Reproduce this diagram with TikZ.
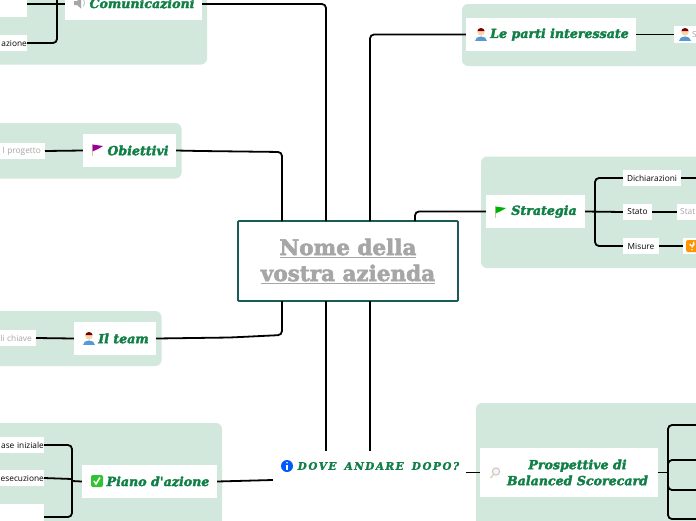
\documentclass[tikz,border=0pt]{standalone}
\usepackage{fontspec}
\setmainfont{Open Sans}
\newfontfamily\headfont[BoldFeatures={FakeBold=2.6},BoldItalicFeatures={FakeBold=2.4}]{DejaVu Serif}
\newfontfamily\dovefont[LetterSpace=14,WordSpace=1.6,BoldItalicFeatures={FakeBold=2}]{DejaVu Serif}
\definecolor{groupgreen}{HTML}{D3E8DC}
\definecolor{headgreen}{HTML}{118046}
\definecolor{rootteal}{HTML}{1A5C57}
\definecolor{softgrey}{HTML}{A6A6A6}
\tikzset{
  grouparea/.style={fill=groupgreen, rounded corners=6},
  mainbox/.style={fill=white, inner sep=0, text=headgreen, align=center, font=\headfont\bfseries\itshape\fontsize{12.6}{16}\selectfont},
  subbox/.style={fill=white, inner sep=0, font=\fontsize{8.3}{10}\selectfont},
  greybox/.style={subbox, text=softgrey},
  link/.style={line width=1.8pt, rounded corners=4},
  pics/personicon/.style={code={
    \fill[cyan!60!blue!70] (-6,6.5) .. controls (-6,0.5) and (6,0.5) .. (6,6.5) -- cycle;
    \fill[orange!35!white] (0,-2) circle (3.6);
    \fill[red!45!black] (-3.6,-3) arc (180:360:3.6 and 3) -- cycle;
  }},
  pics/flagicon/.style n args={1}{code={
    \draw[brown!50, line width=1pt] (-5,-6) -- (-5,6);
    \fill[#1] (-4.5,-5.5) -- (6,-4) -- (1,-1) -- (-4.5,1.5) -- cycle;
  }},
  pics/speakericon/.style={code={
    \fill[gray!70] (-6,-2) -- (-3,-2) -- (1,-5.5) -- (1,5.5) -- (-3,2) -- (-6,2) -- cycle;
    \draw[gray!40, line width=1pt] (3,-3.5) arc (-50:50:4.5);
  }},
  pics/checkicon/.style={code={
    \fill[green!70!black!80, rounded corners=2] (-6,-6) rectangle (6,6);
    \draw[white, line width=1.5pt] (-3,0) -- (-1,3) -- (3,-3.5);
  }},
  pics/infoicon/.style={code={
    \fill[blue!65!cyan] (0,0) circle (6);
    \fill[white] (0,-3.2) circle (0.9);
    \draw[white, line width=1.4pt] (0,-1.2) -- (0,3.5);
  }},
  pics/lensicon/.style={code={
    \draw[gray!45, line width=1pt, fill=gray!8] (1,-1.5) circle (3.6);
    \draw[brown!35, line width=1.5pt] (-1.5,1.5) -- (-4.5,5);
  }},
  pics/questionicon/.style={code={
    \fill[orange!85!yellow, rounded corners=2] (-6,-6) rectangle (6,6);
    \draw[white, line width=1.3pt] (-2,-2) arc (180:-30:2) -- (0,1.5);
    \fill[white] (0,3.8) circle (0.9);
  }},
}
\begin{document}
\begin{tikzpicture}[x=1pt, y=-1pt]
    \useasboundingbox (0,0) rectangle (696,520);
    \clip (0,0) rectangle (696,520);

    % green areas
    \fill[grouparea] (-20,-20) rectangle (207,64.5);
    \fill[grouparea] (-20,123) rectangle (181.5,178.5);
    \fill[grouparea] (-20,311) rectangle (161.5,366);
    \fill[grouparea] (-20,423) rectangle (222,540);
    \fill[grouparea] (462,4) rectangle (720,66);
    \fill[grouparea] (481,156.5) rectangle (720,268);
    \fill[grouparea] (476,403) rectangle (720,540);

    % centre
    \node[draw=rootteal, line width=1.8pt, outer sep=0, fill=white, rounded corners=1, minimum width=220, minimum height=80, inner sep=0, align=center, text=softgrey, font=\headfont\bfseries\fontsize{21.5}{26}\selectfont] (nome) at (348,261) {\underline{Nome della}\\\underline{vostra azienda}};
    \node[minimum width=193, minimum height=30, inner sep=0, text=headgreen, font=\dovefont\bfseries\itshape\fontsize{10.5}{12}\selectfont] (dove) at (369.5,466) {\hspace*{18pt}DOVE ANDARE DOPO?};

    % left side
    \node[mainbox, minimum width=137, minimum height=33] (comunicazioni) at (133.5,3.5) {\hspace*{17pt}Comunicazioni};
    \node[mainbox, minimum width=93, minimum height=33] (obiettivi) at (129.5,150.5) {\hspace*{17pt}Obiettivi};
    \node[mainbox, minimum width=82, minimum height=33] (team) at (115,338.5) {\hspace*{17pt}Il team};
    \node[mainbox, minimum width=135, minimum height=33] (piano) at (149.5,481.5) {\hspace*{17pt}Piano d'azione};

    \node[subbox, minimum width=47, minimum height=34] (comA) at (3.5,0) {};
    \node[subbox, anchor=east, minimum height=16, text width=30, align=right] (comB) at (27,43) {azione\hspace*{3pt}};
    \node[greybox, anchor=east, minimum height=16, text width=60, align=right] (progetto) at (45,151) {l progetto\hspace*{4pt}};
    \node[greybox, anchor=east, minimum height=16, text width=50, align=right] (chiave) at (36,338) {li chiave\hspace*{4pt}};
    \node[subbox, anchor=east, minimum height=16, text width=60, align=right] (fase) at (44,445) {ase iniziale\hspace*{4pt}};
    \node[subbox, anchor=east, minimum height=16, text width=60, align=right] (esecuzione) at (44,478) {esecuzione\hspace*{4pt}};
    \node[subbox, anchor=east, minimum height=36, minimum width=60] (ultimo) at (44,522) {};

    % right side
    \node[mainbox, minimum width=170, minimum height=33] (parti) at (551,34.5) {\hspace*{17pt}Le parti interessate};
    \node[mainbox, minimum width=99, minimum height=33] (strategia) at (535.5,211.5) {\hspace*{17pt}Strategia};
    \node[mainbox, minimum width=178, minimum height=49] (prospettive) at (569,472.5) {\hspace*{17pt}Prospettive di\\\hspace*{17pt}Balanced Scorecard};

    \node[greybox, anchor=west, minimum height=17, text width=40] (interessato) at (674,34.5) {\hspace*{18pt}S};
    \node[subbox, minimum width=58, minimum height=16] (dichiarazioni) at (652,178) {Dichiarazioni};
    \node[subbox, minimum width=29, minimum height=16] (stato) at (637.5,212) {Stato};
    \node[subbox, minimum width=36, minimum height=16] (misure) at (641,246) {Misure};
    \node[greybox, anchor=west, minimum height=16, text width=30] (statoB) at (677,212) {\hspace*{3pt}Stat};
    \node[subbox, anchor=west, minimum height=16, minimum width=30] (misureB) at (683,246) {};
    \coordinate (dichEnd) at (700,178);
    \coordinate (pA) at (700,425);
    \coordinate (pB) at (700,460);
    \coordinate (pC) at (700,490);
    \coordinate (pD) at (700,519);

    % links from the centre
    \draw[link] (comunicazioni.east |- 0,4) -| ([xshift=88]nome.north west);
    \draw[link] (obiettivi.east) -- (200,151) -- (282,152) -- ([xshift=44]nome.north west);
    \draw[link] (team.east) -- (230,337.5) -- (282,335) -- ([xshift=44]nome.south west);
    \draw[link] (parti.west) -| ([xshift=132]nome.north west);
    \draw[link] (strategia.west) -| ([xshift=177]nome.north west);
    \draw[link] ([xshift=88]nome.south west) -- (dove.north -| 326,0);
    \draw[link] ([xshift=132]nome.south west) -- (dove.north -| 370,0);
    \draw[link] (piano.east) -- ([yshift=-14]dove.west);
    \draw[link] (prospettive.west) -- ([yshift=-6.5]dove.east);

    % links left
    \draw[link] (comunicazioni.west |- 0,4) -- (comA.east |- 0,4);
    \draw[link] (comB.east) -| (57,0);
    \draw[link] (obiettivi.west) -- (progetto.east);
    \draw[link] (team.west) -- (chiave.east);
    \draw[link] (fase.east) -| (72,481);
    \draw[link] (ultimo.east |- 0,517) -| (72,481);
    \draw[link] (esecuzione.east) -- (72,479);
    \draw[link] (72,481) -- (piano.west);

    % links right
    \draw[link] (parti.east) -- (interessato.west);
    \draw[link] (dichiarazioni.west) -| (595,212);
    \draw[link] (misure.west) -| (595,212);
    \draw[link] (strategia.east) -- (stato.west);
    \draw[link] (dichiarazioni.east) -- (dichEnd);
    \draw[link] (stato.east) -- (statoB.west);
    \draw[link] (misure.east) -- (misureB.west);
    \draw[link] (prospettive.east) -- (668,472.5);
    \draw[link] (pA) -| (668,472.5);
    \draw[link] (pD) -| (668,472.5);
    \draw[link] (pB) -| (668,472.5);
    \draw[link] (pC) -| (668,472.5);

    % icons
    \pic at (80,3) {speakericon};
    \pic at (97,150) {flagicon={violet!80!magenta}};
    \pic at (89,338) {personicon};
    \pic at (97,481) {checkicon};
    \pic at (481,34) {personicon};
    \pic at (685,34) {personicon};
    \pic at (500,212) {flagicon={green!70!black}};
    \pic at (692,246) {questionicon};
    \pic at (287,466) {infoicon};
    \pic at (495,473) {lensicon};
\end{tikzpicture}
\end{document}
